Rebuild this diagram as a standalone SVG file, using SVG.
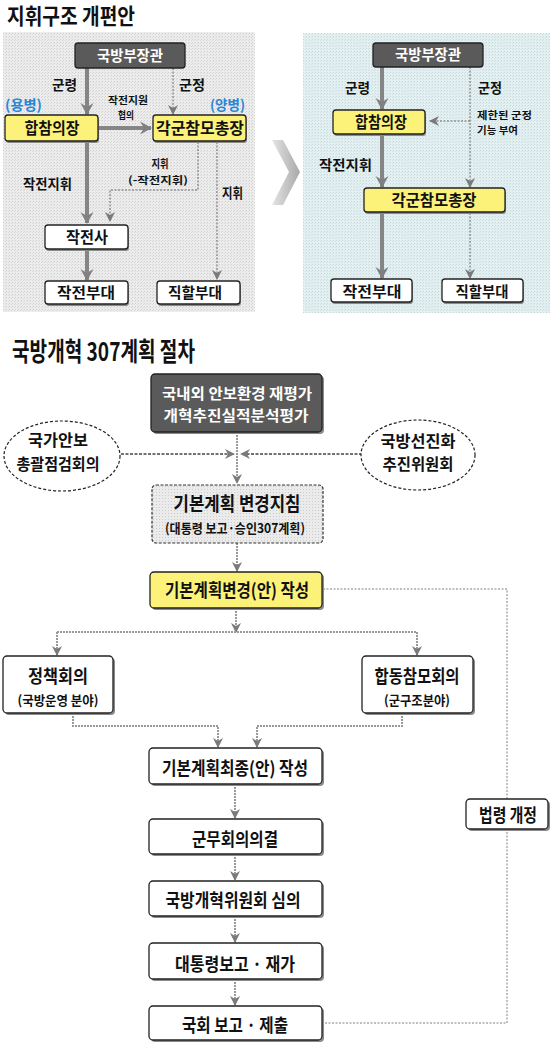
<svg xmlns="http://www.w3.org/2000/svg" width="550" height="1045" viewBox="0 0 550 1045">
<style>
text{font-family:"Noto Sans CJK KR","Noto Sans",sans-serif;font-weight:bold;fill:#111}
.m{text-anchor:middle}
.box{fill:#fff;stroke:#222;stroke-width:1.3}
.yel{fill:#fcf27a;stroke:#222;stroke-width:1.3}
.dark{fill:#5a5a5a;stroke:#222;stroke-width:1.3}
.sh{fill:#8a8a8a}
.thick{stroke:#858585;stroke-width:4;fill:none}
.dot{stroke:#666;stroke-width:1;stroke-dasharray:2 1.5;fill:none}
.gl{stroke:#9a9a9a;stroke-width:2;stroke-dasharray:2 1;fill:none}
.dl{stroke:#444;stroke-width:1.6;stroke-dasharray:3 1.5;fill:none}
.law{stroke:#aaa;stroke-width:1.5;stroke-dasharray:2 1.5;fill:none}
.ell{fill:#fff;stroke:#222;stroke-width:1.2;stroke-dasharray:3 2}
</style>
<defs>
<pattern id="pg" width="3" height="3" patternUnits="userSpaceOnUse"><rect width="3" height="3" fill="#ececec"/><rect width="1" height="1" fill="#cfcfcf"/><rect x="2" y="1" width="1" height="1" fill="#d8d8d8"/></pattern>
<pattern id="pb" width="3" height="3" patternUnits="userSpaceOnUse"><rect width="3" height="3" fill="#e3f0f2"/><rect width="1" height="1" fill="#c8d8dc"/><rect x="2" y="1" width="1" height="1" fill="#d2e0e3"/></pattern>
<pattern id="pl" width="3" height="3" patternUnits="userSpaceOnUse"><rect width="3" height="3" fill="#ebebeb"/><rect width="1" height="1" fill="#cccccc"/></pattern>
<linearGradient id="chev" x1="0" y1="0" x2="1" y2="0"><stop offset="0" stop-color="#e4e4e4"/><stop offset="1" stop-color="#a8a8a8"/></linearGradient>
<marker id="ab" markerUnits="userSpaceOnUse" markerWidth="14" markerHeight="14" refX="11" refY="7" orient="auto"><path d="M0,0.5 L12,7 L0,13.5 L4,7 z" fill="#808080"/></marker>
<marker id="as" markerUnits="userSpaceOnUse" markerWidth="12" markerHeight="12" refX="9" refY="6" orient="auto"><path d="M0,1 L10,6 L0,11 L3,6 z" fill="#7a7a7a"/></marker>
</defs>
<rect width="550" height="1045" fill="#fff"/>

<!-- panels -->
<rect x="3" y="32" width="252" height="280" fill="url(#pg)"/>
<rect x="303" y="33" width="247" height="280" fill="url(#pb)"/>
<polygon points="272,140 283,140 300,172 283,205 272,205 289,172" fill="url(#chev)"/>

<text x="7" y="24" font-size="22" textLength="128" lengthAdjust="spacingAndGlyphs">지휘구조 개편안</text>
<text x="12" y="361" font-size="26" textLength="183" lengthAdjust="spacingAndGlyphs">국방개혁 307계획 절차</text>

<g id="connectors">
<!-- top left -->
<line class="thick" x1="87" y1="68" x2="87" y2="114" marker-end="url(#ab)"/>
<line class="dot" x1="173" y1="68" x2="173" y2="114" marker-end="url(#as)"/>
<line class="thick" x1="99" y1="128" x2="151" y2="128" marker-end="url(#ab)"/>
<line class="thick" x1="87" y1="142" x2="87" y2="223" marker-end="url(#ab)"/>
<polyline class="dot" points="198,142 198,190 110,190 110,221" marker-end="url(#as)"/>
<line class="dot" x1="217" y1="142" x2="217" y2="279" marker-end="url(#as)"/>
<line class="thick" x1="87" y1="250" x2="87" y2="280" marker-end="url(#ab)"/>
<!-- top right -->
<line class="thick" x1="382" y1="67" x2="382" y2="109" marker-end="url(#ab)"/>
<line class="dot" x1="470" y1="67" x2="470" y2="187" marker-end="url(#as)"/>
<line class="dot" x1="470" y1="121" x2="430" y2="121" marker-end="url(#as)"/>
<line class="thick" x1="382" y1="134" x2="382" y2="187" marker-end="url(#ab)"/>
<line class="thick" x1="382" y1="213" x2="382" y2="278" marker-end="url(#ab)"/>
<line class="dot" x1="470" y1="213" x2="470" y2="278" marker-end="url(#as)"/>
<!-- bottom -->
<line class="gl" x1="237" y1="432" x2="237" y2="483" marker-end="url(#as)"/>
<line class="dl" x1="121" y1="454" x2="234" y2="454" marker-end="url(#as)"/>
<line class="dl" x1="362" y1="454" x2="241" y2="454" marker-end="url(#as)"/>
<line class="gl" x1="237" y1="543" x2="237" y2="571" marker-end="url(#as)"/>
<line class="gl" x1="236" y1="608" x2="236" y2="632" marker-end="url(#as)"/>
<line class="gl" x1="57" y1="632" x2="417" y2="632"/>
<line class="gl" x1="57" y1="632" x2="57" y2="655" marker-end="url(#as)"/>
<line class="gl" x1="417" y1="632" x2="417" y2="655" marker-end="url(#as)"/>
<polyline class="gl" points="73,713 73,726 218,726 218,747" marker-end="url(#as)"/>
<polyline class="gl" points="402,713 402,726 257,726 257,747" marker-end="url(#as)"/>
<line class="gl" x1="235" y1="784" x2="235" y2="818" marker-end="url(#as)"/>
<line class="gl" x1="235" y1="854" x2="235" y2="880" marker-end="url(#as)"/>
<line class="gl" x1="235" y1="916" x2="235" y2="942" marker-end="url(#as)"/>
<line class="gl" x1="235" y1="979" x2="235" y2="1005" marker-end="url(#as)"/>
<polyline class="law" points="323,589 507,589 507,1023 324,1023"/>
</g>

<g id="labels">
<text x="52" y="90" font-size="14" textLength="25" lengthAdjust="spacingAndGlyphs">군령</text>
<text x="179" y="90" font-size="14" textLength="26" lengthAdjust="spacingAndGlyphs">군정</text>
<text x="5" y="110" font-size="14" textLength="37" lengthAdjust="spacingAndGlyphs" style="fill:#2a86d6">(용병)</text>
<text x="210" y="110" font-size="14" textLength="35" lengthAdjust="spacingAndGlyphs" style="fill:#2a86d6">(양병)</text>
<text class="m" x="128" y="104" font-size="10" textLength="40" lengthAdjust="spacingAndGlyphs">작전지원</text>
<text class="m" x="126" y="119" font-size="10" textLength="16" lengthAdjust="spacingAndGlyphs">협의</text>
<text x="23" y="189" font-size="14" textLength="49" lengthAdjust="spacingAndGlyphs">작전지휘</text>
<text class="m" x="160" y="168" font-size="11" textLength="17" lengthAdjust="spacingAndGlyphs">지휘</text>
<text class="m" x="158" y="184" font-size="10.5" textLength="60" lengthAdjust="spacingAndGlyphs">(-작전지휘)</text>
<text x="222" y="198" font-size="14" textLength="21" lengthAdjust="spacingAndGlyphs">지휘</text>
<text x="345" y="93" font-size="14" textLength="25" lengthAdjust="spacingAndGlyphs">군령</text>
<text x="478" y="93" font-size="14" textLength="24" lengthAdjust="spacingAndGlyphs">군정</text>
<text x="477" y="119" font-size="10" textLength="55" lengthAdjust="spacingAndGlyphs">제한된 군정</text>
<text x="477" y="134" font-size="10" textLength="41" lengthAdjust="spacingAndGlyphs">기능 부여</text>
<text x="319" y="170" font-size="14" textLength="53" lengthAdjust="spacingAndGlyphs">작전지휘</text>
</g>

<!-- top-left nodes -->
<g id="tl-minister">
<rect class="dark" x="75" y="43" width="110" height="25" rx="3"/>
<text class="m" x="130" y="61" font-size="15" textLength="66" lengthAdjust="spacingAndGlyphs" style="fill:#fff">국방부장관</text>
</g>
<g id="tl-jcs">
<rect class="sh" x="6" y="117" width="93" height="26" rx="3"/>
<rect class="yel" x="5" y="115" width="93" height="26" rx="3"/>
<text class="m" x="52" y="134" font-size="16" textLength="55" lengthAdjust="spacingAndGlyphs">합참의장</text>
</g>
<g id="tl-chiefs">
<rect class="sh" x="154" y="117" width="93" height="26" rx="3"/>
<rect class="yel" x="153" y="115" width="93" height="26" rx="3"/>
<text class="m" x="200" y="134" font-size="16" textLength="88" lengthAdjust="spacingAndGlyphs">각군참모총장</text>
</g>
<g id="tl-opcmd">
<rect class="sh" x="46" y="227" width="83" height="24" rx="3"/>
<rect class="box" x="45" y="225" width="83" height="24" rx="3"/>
<text class="m" x="87" y="243" font-size="16" textLength="42" lengthAdjust="spacingAndGlyphs">작전사</text>
</g>
<g id="tl-opunit">
<rect class="sh" x="46" y="283" width="83" height="23" rx="3"/>
<rect class="box" x="45" y="281" width="83" height="23" rx="3"/>
<text class="m" x="86" y="298" font-size="15" textLength="58" lengthAdjust="spacingAndGlyphs">작전부대</text>
</g>
<g id="tl-direct">
<rect class="sh" x="158" y="283" width="83" height="23" rx="3"/>
<rect class="box" x="157" y="281" width="83" height="23" rx="3"/>
<text class="m" x="195" y="298" font-size="15" textLength="54" lengthAdjust="spacingAndGlyphs">직할부대</text>
</g>

<!-- top-right nodes -->
<g id="tr-minister">
<rect class="dark" x="373" y="43" width="110" height="24" rx="3"/>
<text class="m" x="428" y="60" font-size="15" textLength="66" lengthAdjust="spacingAndGlyphs" style="fill:#fff">국방부장관</text>
</g>
<g id="tr-jcs">
<rect class="sh" x="334" y="112" width="92" height="24" rx="3"/>
<rect class="yel" x="333" y="110" width="92" height="24" rx="3"/>
<text class="m" x="381" y="128" font-size="16" textLength="52" lengthAdjust="spacingAndGlyphs">합참의장</text>
</g>
<g id="tr-chiefs">
<rect class="sh" x="365" y="190" width="141" height="24" rx="3"/>
<rect class="yel" x="364" y="188" width="141" height="24" rx="3"/>
<text class="m" x="434" y="206" font-size="16" textLength="85" lengthAdjust="spacingAndGlyphs">각군참모총장</text>
</g>
<g id="tr-opunit">
<rect class="sh" x="332" y="281" width="81" height="23" rx="3"/>
<rect class="box" x="331" y="279" width="81" height="23" rx="3"/>
<text class="m" x="372" y="297" font-size="15" textLength="59" lengthAdjust="spacingAndGlyphs">작전부대</text>
</g>
<g id="tr-direct">
<rect class="sh" x="443" y="281" width="81" height="23" rx="3"/>
<rect class="box" x="442" y="279" width="81" height="23" rx="3"/>
<text class="m" x="482" y="297" font-size="15" textLength="53" lengthAdjust="spacingAndGlyphs">직할부대</text>
</g>

<!-- bottom nodes -->
<g id="b-reeval">
<rect class="sh" x="153" y="376" width="171" height="58" rx="4"/>
<rect class="dark" x="151" y="374" width="171" height="58" rx="4"/>
<text class="m" x="237" y="399" font-size="14.5" textLength="150" lengthAdjust="spacingAndGlyphs" style="fill:#fff">국내외 안보환경 재평가</text>
<text class="m" x="236" y="421" font-size="14.5" textLength="145" lengthAdjust="spacingAndGlyphs" style="fill:#fff">개혁추진실적분석평가</text>
</g>
<g id="b-nsc">
<ellipse class="ell" cx="62" cy="456" rx="58" ry="35"/>
<text class="m" x="58" y="446" font-size="16" textLength="60" lengthAdjust="spacingAndGlyphs">국가안보</text>
<text class="m" x="58" y="470" font-size="16" textLength="83" lengthAdjust="spacingAndGlyphs">총괄점검회의</text>
</g>
<g id="b-adv">
<ellipse class="ell" cx="418" cy="455" rx="57" ry="35"/>
<text class="m" x="418" y="447" font-size="16" textLength="75" lengthAdjust="spacingAndGlyphs">국방선진화</text>
<text class="m" x="418" y="470" font-size="16" textLength="71" lengthAdjust="spacingAndGlyphs">추진위원회</text>
</g>
<g id="b-guide">
<rect x="152" y="485" width="171" height="58" rx="4" fill="url(#pl)" stroke="#333" stroke-width="1.2" stroke-dasharray="3 1.5"/>
<text class="m" x="237" y="511" font-size="19" textLength="127" lengthAdjust="spacingAndGlyphs">기본계획 변경지침</text>
<text class="m" x="235" y="533" font-size="13" textLength="140" lengthAdjust="spacingAndGlyphs">(대통령 보고·승인307계획)</text>
</g>
<g id="b-draft">
<rect class="sh" x="152" y="574" width="172" height="36" rx="4"/>
<rect class="yel" x="150" y="572" width="172" height="36" rx="4"/>
<text class="m" x="237" y="597" font-size="18" textLength="144" lengthAdjust="spacingAndGlyphs">기본계획변경(안) 작성</text>
</g>
<g id="b-policy">
<rect class="sh" x="5" y="658" width="110" height="57" rx="4"/>
<rect class="box" x="3" y="656" width="110" height="57" rx="4"/>
<text class="m" x="58" y="683" font-size="18" textLength="60" lengthAdjust="spacingAndGlyphs">정책회의</text>
<text class="m" x="58" y="705" font-size="13" textLength="81" lengthAdjust="spacingAndGlyphs">(국방운영 분야)</text>
</g>
<g id="b-jcscouncil">
<rect class="sh" x="364" y="658" width="111" height="57" rx="4"/>
<rect class="box" x="362" y="656" width="111" height="57" rx="4"/>
<text class="m" x="417" y="683" font-size="18" textLength="85" lengthAdjust="spacingAndGlyphs">합동참모회의</text>
<text class="m" x="417" y="705" font-size="13" textLength="66" lengthAdjust="spacingAndGlyphs">(군구조분야)</text>
</g>
<g id="b-final">
<rect class="sh" x="151" y="750" width="173" height="36" rx="4"/>
<rect class="box" x="149" y="748" width="173" height="36" rx="4"/>
<text class="m" x="235" y="775" font-size="18" textLength="146" lengthAdjust="spacingAndGlyphs">기본계획최종(안) 작성</text>
</g>
<g id="b-council">
<rect class="sh" x="151" y="821" width="173" height="35" rx="4"/>
<rect class="box" x="149" y="819" width="173" height="35" rx="4"/>
<text class="m" x="235" y="846" font-size="18" textLength="86" lengthAdjust="spacingAndGlyphs">군무회의의결</text>
</g>
<g id="b-reform">
<rect class="sh" x="151" y="883" width="173" height="35" rx="4"/>
<rect class="box" x="149" y="881" width="173" height="35" rx="4"/>
<text class="m" x="233" y="907" font-size="18" textLength="135" lengthAdjust="spacingAndGlyphs">국방개혁위원회 심의</text>
</g>
<g id="b-president">
<rect class="sh" x="151" y="945" width="173" height="36" rx="4"/>
<rect class="box" x="149" y="943" width="173" height="36" rx="4"/>
<text class="m" x="235" y="971" font-size="18" textLength="120" lengthAdjust="spacingAndGlyphs">대통령보고 · 재가</text>
</g>
<g id="b-assembly">
<rect class="sh" x="151" y="1008" width="173" height="34" rx="4"/>
<rect class="box" x="149" y="1006" width="173" height="34" rx="4"/>
<text class="m" x="235" y="1032" font-size="18" textLength="106" lengthAdjust="spacingAndGlyphs">국회 보고 · 제출</text>
</g>
<g id="b-law">
<rect class="sh" x="468" y="801" width="82" height="30" rx="4"/>
<rect class="box" x="466" y="799" width="82" height="30" rx="4"/>
<text class="m" x="508" y="822" font-size="18" textLength="58" lengthAdjust="spacingAndGlyphs">법령 개정</text>
</g>
</svg>
